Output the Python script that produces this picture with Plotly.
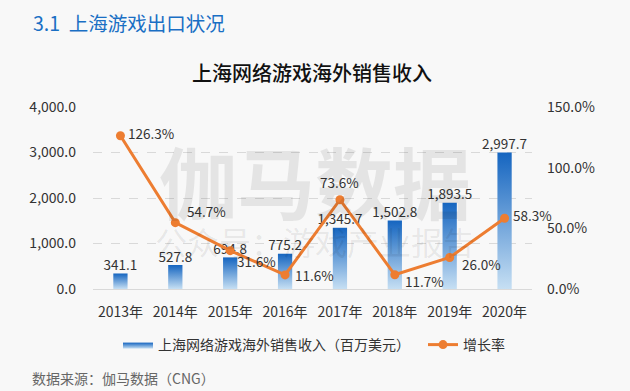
import plotly.graph_objects as go

years = ["2013年", "2014年", "2015年", "2016年", "2017年", "2018年", "2019年", "2020年"]
revenue = [341.1, 527.8, 694.8, 775.2, 1345.7, 1502.8, 1893.5, 2997.7]
growth = [126.3, 54.7, 31.6, 11.6, 73.6, 11.7, 26.0, 58.3]
revenue_labels = ["341.1", "527.8", "694.8", "775.2", "1,345.7", "1,502.8", "1,893.5", "2,997.7"]
growth_labels = ["126.3%", "54.7%", "31.6%", "11.6%", "73.6%", "11.7%", "26.0%", "58.3%"]
left_ticks = [0, 1000, 2000, 3000, 4000]
right_ticks = [0, 50, 100, 150]
right_tick_labels = ["0.0%", "50.0%", "100.0%", "150.0%"]

FONT = "Noto Sans CJK SC, Noto Sans, sans-serif"
BLUE_DARK = "#1565c0"
BLUE_LIGHT = "#c6dff3"
ORANGE = "#ed7d31"
BG = "#f8f8f8"

xs = list(range(len(years)))
half = 0.13

fig = go.Figure()

# gradient bars
for i, (x, v) in enumerate(zip(xs, revenue)):
    fig.add_trace(go.Scatter(
        x=[x - half, x + half, x + half, x - half, x - half],
        y=[0, 0, v, v, 0],
        mode="lines", line=dict(width=0, color=BLUE_DARK),
        fill="toself",
        fillgradient=dict(type="vertical", colorscale=[[0, BLUE_LIGHT], [1, BLUE_DARK]]),
        name="上海网络游戏海外销售收入（百万美元）",
        legendgroup="rev", showlegend=(i == 0), legend="legend",
        hoverinfo="skip",
    ))

# bar labels
fig.add_trace(go.Scatter(
    x=xs, y=revenue, mode="text", text=revenue_labels,
    textposition="top center", textfont=dict(size=13.5, color="#333333", family=FONT),
    showlegend=False, hoverinfo="skip",
))

# growth line
fig.add_trace(go.Scatter(
    x=xs, y=growth, yaxis="y2", mode="lines+markers",
    line=dict(color=ORANGE, width=3), marker=dict(size=9, color=ORANGE),
    name="增长率", legend="legend2",
))

offsets = [(6, 3, "left"), (10, 12, "left"), (5, -10, "left"), (8, 0, "left"),
           (0, 18, "center"), (8, -6, "left"), (10, -7, "left"), (6, 3, "left")]
for x, g, lab, (dx, dy, anc) in zip(xs, growth, growth_labels, offsets):
    fig.add_annotation(x=x, y=g, yref="y2", text=lab, showarrow=False,
                       xanchor=anc, yanchor="middle", xshift=dx, yshift=dy,
                       font=dict(size=13.5, color="#333333", family=FONT))

# watermark
fig.add_annotation(xref="paper", yref="paper", x=(315 - 93) / 439, y=(289 - 180) / 182,
                   text="伽马数据", showarrow=False, xanchor="center", yanchor="middle",
                   font=dict(size=78, color="rgba(0,0,0,0.08)", family=FONT, weight="bold"))
fig.add_annotation(xref="paper", yref="paper", x=(315 - 93) / 439, y=(289 - 241) / 182,
                   text="公众号：游戏产业报告", showarrow=False, xanchor="center", yanchor="middle",
                   font=dict(size=32, color="rgba(0,0,0,0.08)", family=FONT))

# header, title, footer
fig.add_annotation(xref="paper", yref="paper", x=-(93 - 31) / 439, y=(289 - 22) / 182,
                   text="3.1  上海游戏出口状况", showarrow=False, xanchor="left", yanchor="middle",
                   font=dict(size=19.5, color="#1a6fc4", family=FONT))
fig.add_annotation(xref="paper", yref="paper", x=(312 - 93) / 439, y=(289 - 72) / 182,
                   text="上海网络游戏海外销售收入", showarrow=False, xanchor="center", yanchor="middle",
                   font=dict(size=20, color="#111111", family=FONT, weight=500))
fig.add_annotation(xref="paper", yref="paper", x=-(93 - 30) / 439, y=(289 - 378) / 182,
                   text="数据来源：伽马数据（CNG）", showarrow=False, xanchor="left", yanchor="middle",
                   font=dict(size=14, color="#666666", family=FONT))

legend_common = dict(orientation="h", y=-(345 - 289) / 182, yanchor="middle",
                     font=dict(size=14, color="#333333", family=FONT),
                     bgcolor="rgba(0,0,0,0)", itemwidth=30)

fig.update_layout(
    width=630, height=391,
    margin=dict(l=93, r=98, t=107, b=102),
    paper_bgcolor=BG, plot_bgcolor=BG,
    font=dict(family=FONT, size=14, color="#333333"),
    xaxis=dict(range=[-0.5, 7.5], tickvals=xs, ticktext=years, showgrid=False,
               zeroline=False, showline=True, linecolor="#d9d9d9", linewidth=1,
               ticks="", ticklabelstandoff=10, fixedrange=True),
    yaxis=dict(range=[0, 4000], tickvals=left_ticks, tickformat=",.1f",
               showgrid=True, gridcolor="#d9d9d9", griddash="dash", gridwidth=1,
               zeroline=False, showline=False, ticks="", ticklabelstandoff=16),
    yaxis2=dict(range=[0, 150], tickmode="array", tickvals=right_ticks, ticktext=right_tick_labels,
                overlaying="y", side="right", showgrid=False, zeroline=False,
                showline=False, ticks="", ticklabelstandoff=14),
    legend=dict(x=(118 - 93) / 439, xanchor="left", **legend_common),
    legend2=dict(x=(423 - 93) / 439, xanchor="left", **legend_common),
    showlegend=True,
)

fig.write_html("out.html", config={"displayModeBar": False},
               post_script="document.body.style.margin='0';")
